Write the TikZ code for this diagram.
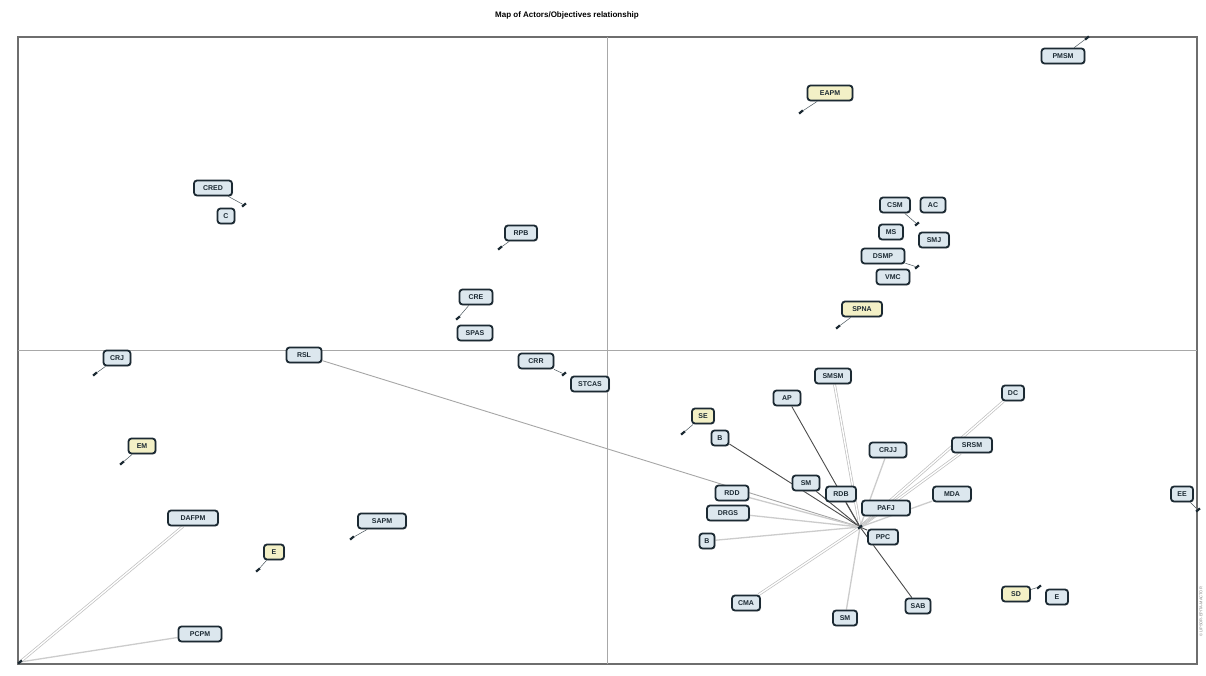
\documentclass[tikz,border=0pt]{standalone}
\usepackage{fontspec}
\setmainfont{Liberation Sans}
\usetikzlibrary{shadows}
\pgfdeclarelayer{back}
\pgfdeclarelayer{bg}
\pgfsetlayers{back,bg,main}
\definecolor{labline}{HTML}{1C2A33}
\definecolor{labfill}{HTML}{DCE7EE}
\definecolor{actfill}{HTML}{F3F0C6}
\definecolor{framec}{HTML}{6E6E6E}
\definecolor{midc}{HTML}{A8A8A8}
\tikzset{
  lab/.style={draw=labline, line width=1.8pt, rounded corners=3pt, fill=labfill,
    font=\bfseries\fontsize{7}{8}\selectfont, inner sep=1.2pt, minimum height=15pt,
    text=labline, drop shadow={shadow xshift=1pt, shadow yshift=-1pt, fill=gray!55}},
  act/.style={lab, fill=actfill},
  mkdot/.style={fill=labline, rectangle, rotate=40, inner sep=0pt, minimum width=5pt, minimum height=2.2pt},
  tick/.style={labline!80, line width=0.5pt},
  hublight/.style={draw=gray!40, line width=1.3pt},
  hubdark/.style={draw=gray!60!black, line width=0.9pt},
  hubdouble/.style={draw=gray!50, double=white, double distance=1.4pt, line width=0.7pt},
}
\begin{document}
\begin{tikzpicture}[x=1pt,y=-1pt]
\useasboundingbox (0,0) rectangle (1206,675);
\begin{pgfonlayer}{back}
\fill[white] (0,0) rectangle (1206,675);
\end{pgfonlayer}
% title
\node[font=\bfseries\fontsize{8}{9}\selectfont] (title) at (567,15) {Map of Actors/Objectives relationship};
% frame and axes
\draw[framec, line width=1.2pt] (18,37) rectangle (1197,664);
\draw[midc, line width=0.8pt] (607,37) -- (607,664);
\draw[midc, line width=0.8pt] (18,350) -- (1197,350);
\node[rotate=90, font=\fontsize{4}{5}\selectfont, text=gray] (credit) at (1201,612) {© LIPSOR-EPITA-MACTOR};
% hub and corner
\coordinate (hub) at (860,527);
\coordinate (corner) at (20,662);
% labels: upper-left quadrant
\node[lab, minimum width=38pt] (l1) at (213,188) {CRED};
\node[lab, minimum width=17pt] (l2) at (226,216) {C};
\node[lab, minimum width=32pt] (l3) at (521,233) {RPB};
\node[lab, minimum width=33pt] (l4) at (476,297) {CRE};
\node[lab, minimum width=35pt] (l5) at (475,333) {SPAS};
\node[lab, minimum width=35pt] (l6) at (536,361) {CRR};
\node[lab, minimum width=38pt] (l7) at (590,384) {STCAS};
% lower-left quadrant
\node[lab, minimum width=27pt] (l8) at (117,358) {CRJ};
\node[lab, minimum width=35pt] (l9) at (304,355) {RSL};
\node[act, minimum width=27pt] (l10) at (142,446) {EM};
\node[lab, minimum width=50pt] (l11) at (193,518) {DAFPM};
\node[lab, minimum width=43pt] (l12) at (200,634) {PCPM};
\node[act, minimum width=20pt] (l13) at (274,552) {E};
\node[lab, minimum width=48pt] (l14) at (382,521) {SAPM};
% upper-right quadrant
\node[lab, minimum width=43pt] (l15) at (1063,56) {PMSM};
\node[act, minimum width=45pt] (l16) at (830,93) {EAPM};
\node[lab, minimum width=30pt] (l17) at (895,205) {CSM};
\node[lab, minimum width=25pt] (l18) at (933,205) {AC};
\node[lab, minimum width=24pt] (l19) at (891,232) {MS};
\node[lab, minimum width=30pt] (l20) at (934,240) {SMJ};
\node[lab, minimum width=43pt] (l21) at (883,256) {DSMP};
\node[lab, minimum width=33pt] (l22) at (893,277) {VMC};
\node[act, minimum width=40pt] (l23) at (862,309) {SPNA};
% lower-right quadrant
\node[lab, minimum width=36pt] (l24) at (833,376) {SMSM};
\node[lab, minimum width=27pt] (l25) at (787,398) {AP};
\node[act, minimum width=22pt] (l26) at (703,416) {SE};
\node[lab, minimum width=17pt] (l27) at (720,438) {B};
\node[lab, minimum width=22pt] (l28) at (1013,393) {DC};
\node[lab, minimum width=37pt] (l29) at (888,450) {CRJJ};
\node[lab, minimum width=40pt] (l30) at (972,445) {SRSM};
\node[lab, minimum width=27pt] (l31) at (806,483) {SM};
\node[lab, minimum width=30pt] (l32) at (841,494) {RDB};
\node[lab, minimum width=48pt] (l33) at (886,508) {PAFJ};
\node[lab, minimum width=38pt] (l34) at (952,494) {MDA};
\node[lab, minimum width=33pt] (l35) at (732,493) {RDD};
\node[lab, minimum width=42pt] (l36) at (728,513) {DRGS};
\node[lab, minimum width=15pt] (l37) at (707,541) {B};
\node[lab, minimum width=30pt] (l38) at (883,537) {PPC};
\node[lab, minimum width=28pt] (l39) at (746,603) {CMA};
\node[lab, minimum width=24pt] (l40) at (845,618) {SM};
\node[lab, minimum width=25pt] (l41) at (918,606) {SAB};
\node[act, minimum width=28pt] (l42) at (1016,594) {SD};
\node[lab, minimum width=22pt] (l43) at (1057,597) {E};
\node[lab, minimum width=22pt] (l44) at (1182,494) {EE};
% point markers
\node[mkdot] (p1) at (244,205) {};
\node[mkdot] (p3) at (500,248) {};
\node[mkdot] (p4) at (458,318) {};
\node[mkdot] (p6) at (564,374) {};
\node[mkdot] (p8) at (95,374) {};
\node[mkdot] (p10) at (122,463) {};
\node[mkdot] (p13) at (258,570) {};
\node[mkdot] (p14) at (352,538) {};
\node[mkdot] (p15) at (1087,38) {};
\node[mkdot] (p16) at (801,112) {};
\node[mkdot] (p17) at (917,224) {};
\node[mkdot] (p21) at (917,267) {};
\node[mkdot] (p23) at (838,327) {};
\node[mkdot] (p26) at (683,433) {};
\node[mkdot] (p42) at (1039,587) {};
\node[mkdot] (p44) at (1198,510) {};
\node[mkdot] (phub) at (hub) {};
\node[mkdot] (pcorner) at (corner) {};
\begin{pgfonlayer}{bg}
% marker ticks
\draw[tick] (l1) -- (p1);
\draw[tick] (l3) -- (p3);
\draw[tick] (l4) -- (p4);
\draw[tick] (l6) -- (p6);
\draw[tick] (l8) -- (p8);
\draw[tick] (l10) -- (p10);
\draw[tick] (l13) -- (p13);
\draw[tick] (l14) -- (p14);
\draw[tick] (l15) -- (p15);
\draw[tick] (l16) -- (p16);
\draw[tick] (l17) -- (p17);
\draw[tick] (l21) -- (p21);
\draw[tick] (l23) -- (p23);
\draw[tick] (l26) -- (p26);
\draw[tick] (l42) -- (p42);
\draw[tick] (l44) -- (p44);
% corner connectors
\draw[hubdouble] (corner) -- (l11);
\draw[hublight] (corner) -- (l12);
% hub connectors
\draw[hubdark, draw=gray!70] (hub) -- (l9);
\draw[hubdouble] (hub) -- (l24);
\draw[hubdark] (hub) -- (l25);
\draw[hubdark] (hub) -- (l27);
\draw[hubdouble] (hub) -- (l28);
\draw[hublight] (hub) -- (l29);
\draw[hubdouble] (hub) -- (l30);
\draw[hubdark] (hub) -- (l31);
\draw[hubdark] (hub) -- (l32);
\draw[hublight] (hub) -- (l33);
\draw[hublight] (hub) -- (l34);
\draw[hublight] (hub) -- (l35);
\draw[hublight] (hub) -- (l36);
\draw[hublight] (hub) -- (l37);
\draw[hubdark] (hub) -- (l38);
\draw[hubdouble] (hub) -- (l39);
\draw[hublight] (hub) -- (l40);
\draw[hubdark] (hub) -- (l41);
\end{pgfonlayer}
\end{tikzpicture}
\end{document}
